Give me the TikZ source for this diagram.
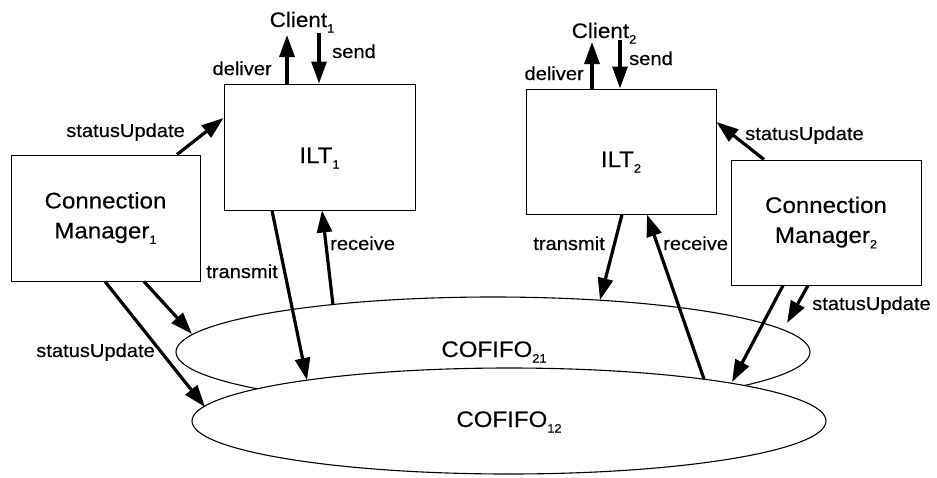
\documentclass[tikz,border=0pt]{standalone}
\usepackage{fontspec}
\setmainfont[FakeStretch=1.07,FakeBold=0.35]{Liberation Sans}
\usetikzlibrary{arrows.meta,shapes.geometric}

% lowered small index, as in ILT_1
\newcommand\lsub[1]{\raisebox{-5.5pt}{\fontsize{12}{12}\selectfont #1}}

\begin{document}
\begin{tikzpicture}[x=1pt,y=-1pt,
  box/.style={draw,line width=1pt,inner sep=0pt},
  fifo/.style={draw,ellipse,line width=1.1pt,fill=white,inner sep=0pt},
  flow/.style={line width=3.2pt,-{Triangle[length=22pt,width=15pt]}},
  lbl/.style={font=\fontsize{18.8}{21}\selectfont,inner sep=0pt},
  big/.style={font=\fontsize{22.5}{30}\selectfont,align=center,inner sep=0pt},
  client/.style={font=\fontsize{21}{24}\selectfont,inner sep=0pt}]
\useasboundingbox (0,0) rectangle (937,477);

% the two channels
\node[fifo,minimum width=634pt,minimum height=110pt] (F21) at (493,352) {};
\node[fifo,minimum width=634pt,minimum height=106pt] (F12) at (509,421) {};
\node[big,anchor=base] (F21t) at (494,357) {COFIFO\lsub{21}};
\node[big,anchor=base] (F12t) at (509,427) {COFIFO\lsub{12}};

% boxes
\node[box,minimum width=191pt,minimum height=126pt] (ILT1) at (319.5,147) {};
\node[big,anchor=base] (ILT1t) at (319.5,163) {ILT\lsub{1}};
\node[box,minimum width=190pt,minimum height=125pt] (ILT2) at (621,151.5) {};
\node[big,anchor=base] (ILT2t) at (621,167) {ILT\lsub{2}};
\node[box,big,minimum width=189pt,minimum height=126pt] (CM1) at (105.5,218) {Connection\\Manager\lsub{1}};
\node[box,big,minimum width=190pt,minimum height=125pt] (CM2) at (826,222.5) {Connection\\Manager\lsub{2}};

% clients
\node[client,anchor=base] (C1) at (302,27) {Client\lsub{1}};
\node[client,anchor=base] (C2) at (604,38) {Client\lsub{2}};

% free ends of connectors
\coordinate (d1) at (287,35);
\coordinate (s1) at (319,33);
\coordinate (d2) at (592,42);
\coordinate (s2) at (620,40);
\coordinate (tx1) at (307,380);
\coordinate (rx1) at (333,305);
\coordinate (tx2) at (600,300);
\coordinate (rx2) at (704,379);
\coordinate (u1a) at (192,334);
\coordinate (u1b) at (205,407);
\coordinate (u2a) at (787,323);
\coordinate (u2b) at (732,382);

% client interface
\draw[flow] ([xshift=-32.5pt]ILT1.north) -- (d1);
\draw[flow] (s1) -- ([xshift=-0.5pt]ILT1.north);
\draw[flow] ([xshift=-29pt]ILT2.north) -- (d2);
\draw[flow] (s2) -- ([xshift=-1pt]ILT2.north);

% status updates to the ILTs
\draw[flow] ([xshift=71.5pt]CM1.north) -- ([yshift=29pt]ILT1.west);
\draw[flow] ([xshift=-62pt]CM2.north) -- ([yshift=29.5pt]ILT2.east);

% transmit / receive
\draw[flow] ([xshift=-47.5pt]ILT1.south) -- (tx1);
\draw[flow] (rx1) -- ([xshift=2.5pt]ILT1.south);
\draw[flow] ([xshift=1pt]ILT2.south) -- (tx2);
\draw[flow] (rx2) -- ([xshift=26pt]ILT2.south);

% status updates to the channels
\draw[flow] ([xshift=38.5pt]CM1.south) -- (u1a);
\draw[flow] ([xshift=-0.5pt]CM1.south) -- (u1b);
\draw[flow] ([xshift=-18pt]CM2.south) -- (u2a);
\draw[flow] ([xshift=-43pt]CM2.south) -- (u2b);

% labels
\node[lbl,anchor=base east] (l1) at (272,75) {deliver};
\node[lbl,anchor=base west] (l2) at (332,58) {send};
\node[lbl,anchor=base east] (l3) at (584,80) {deliver};
\node[lbl,anchor=base west] (l4) at (629,65) {send};
\node[lbl,anchor=base east] (l5) at (185,137) {statusUpdate};
\node[lbl,anchor=base west] (l6) at (745,140) {statusUpdate};
\node[lbl,anchor=base east] (l7) at (155,357) {statusUpdate};
\node[lbl,anchor=base west] (l8) at (812,310) {statusUpdate};
\node[lbl,anchor=base east] (l9) at (278,278) {transmit};
\node[lbl,anchor=base west] (l10) at (330,250) {receive};
\node[lbl,anchor=base east] (l11) at (605,250) {transmit};
\node[lbl,anchor=base west] (l12) at (663,250) {receive};
\end{tikzpicture}
\end{document}
